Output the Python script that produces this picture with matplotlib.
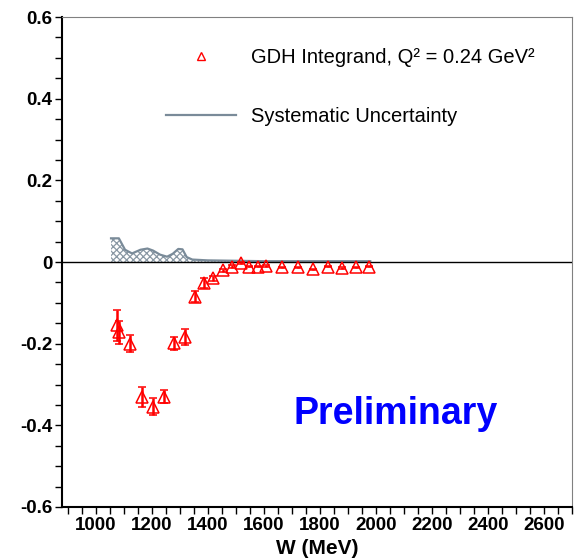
import matplotlib
matplotlib.use('Agg')
import matplotlib.pyplot as plt
from matplotlib.ticker import MultipleLocator, FixedLocator
from matplotlib.lines import Line2D
import numpy as np

plt.rcParams['font.family'] = ['Liberation Sans', 'DejaVu Sans']
plt.rcParams['hatch.linewidth'] = 0.9

# GDH integrand vs W
W = [1076, 1082, 1122, 1164, 1204, 1243, 1280, 1318, 1354, 1387, 1420, 1453,
     1487, 1518, 1548, 1578, 1608, 1666, 1722, 1777, 1828, 1880, 1929, 1977]
gdh = [-0.155, -0.172, -0.200, -0.330, -0.354, -0.330, -0.199, -0.183, -0.085,
       -0.051, -0.040, -0.020, -0.011, -0.003, -0.011, -0.011, -0.010, -0.013,
       -0.013, -0.018, -0.011, -0.015, -0.013, -0.011]
gdh_err = [0.038, 0.028, 0.021, 0.024, 0.020, 0.016, 0.016, 0.020, 0.014,
           0.013, 0.006, 0.004, 0.003, 0.003, 0.002, 0.002, 0.002, 0.002,
           0.002, 0.002, 0.002, 0.002, 0.002, 0.002]

# systematic uncertainty band
W_sys = [1055, 1083, 1105, 1130, 1160, 1185, 1205, 1230, 1255, 1275,
         1295, 1310, 1325, 1345, 1400, 1500, 1600, 1980]
sys_err = [0.058, 0.058, 0.030, 0.021, 0.030, 0.033, 0.028, 0.018, 0.013,
           0.020, 0.032, 0.031, 0.012, 0.006, 0.004, 0.003, 0.002, 0.002]

font = 13.5
sys_col = '#7a8b99'

fig = plt.figure(figsize=(5.81, 5.58), dpi=100)
ax = fig.add_axes([0.1067, 0.0914, 0.8778, 0.8781])

ax.fill_between(W_sys, 0, sys_err, facecolor='white', edgecolor='#8a98a4',
                hatch='xxxxx', lw=0, zorder=1)
ax.plot(W_sys, sys_err, color=sys_col, lw=1.6, zorder=2)
ax.axhline(0, color='black', lw=1, zorder=3)

ax.errorbar(W, gdh, yerr=gdh_err, fmt='^', color='red', mfc='none', mec='red',
            ms=8.5, mew=1.1, ecolor='red', elinewidth=1.8, capsize=3, capthick=1.5,
            zorder=4)

ax.set_xlim(880, 2700)
ax.set_ylim(-0.6, 0.6)
ax.xaxis.set_major_locator(FixedLocator(np.arange(1000, 2601, 200)))
ax.xaxis.set_minor_locator(MultipleLocator(50))
ax.yaxis.set_major_locator(FixedLocator([-0.6, -0.4, -0.2, 0, 0.2, 0.4, 0.6]))
ax.yaxis.set_minor_locator(MultipleLocator(0.05))
ax.set_yticklabels(['-0.6', '-0.4', '-0.2', '0', '0.2', '0.4', '0.6'])
ax.tick_params(axis='both', which='both', direction='out', length=5, width=1,
               labelsize=font, pad=2)
for lab in ax.get_xticklabels() + ax.get_yticklabels():
    lab.set_fontweight('bold')

ax.spines['left'].set_linewidth(1.5)
ax.spines['bottom'].set_linewidth(1.5)
ax.spines['top'].set_color('#808080')
ax.spines['right'].set_color('#808080')

ax.set_xlabel('W (MeV)', fontsize=15, fontweight='bold', labelpad=4)

handles = [Line2D([], [], ls='none', marker='^', ms=6, mfc='none', mec='red', mew=1),
           Line2D([], [], color=sys_col, lw=1.6)]
labels = ['GDH Integrand, Q² = 0.24 GeV²', 'Systematic Uncertainty']
ax.legend(handles, labels, loc='upper left', bbox_to_anchor=(0.168, 0.973),
          frameon=False, fontsize=14.5, handlelength=3.5, handletextpad=0.75,
          labelspacing=1.95)

ax.text(0.655, 0.19, 'Preliminary', transform=ax.transAxes, ha='center',
        va='center', color='#0000ff', fontsize=27, fontweight='bold')

fig.savefig('out.png', dpi=100)
